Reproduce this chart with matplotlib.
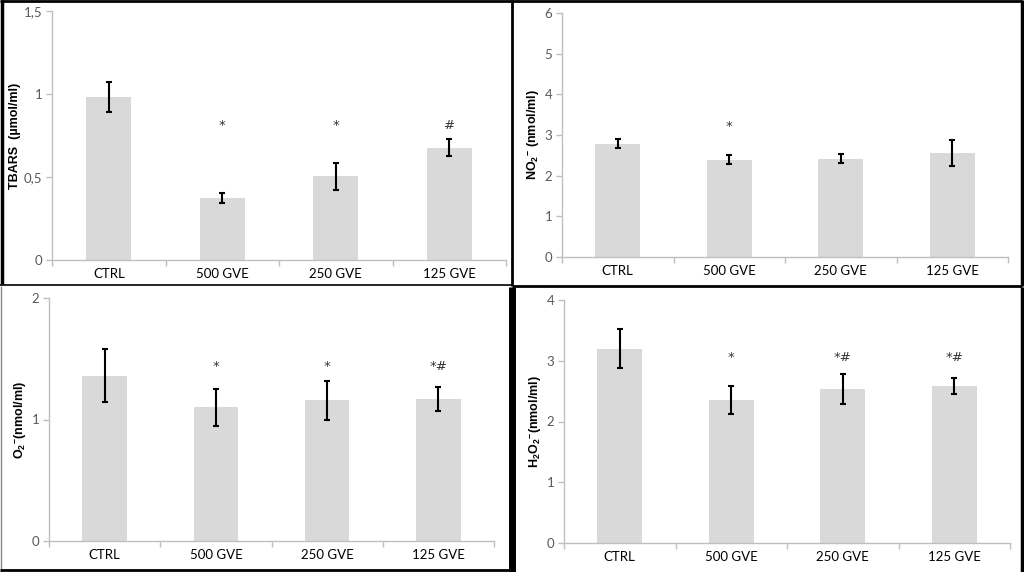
import matplotlib
matplotlib.use("Agg")
import matplotlib.pyplot as plt
from matplotlib.lines import Line2D

plt.rcParams['font.family'] = ['Lato', 'DejaVu Sans']
plt.rcParams['mathtext.fontset'] = 'custom'
plt.rcParams['mathtext.rm'] = 'Liberation Sans'
plt.rcParams['mathtext.bf'] = 'Liberation Sans:bold'

categories = ["CTRL", "500 GVE", "250 GVE", "125 GVE"]

tbars_vals = [0.98, 0.375, 0.505, 0.677]
tbars_err = [0.091, 0.030, 0.081, 0.051]
tbars_marks = ["", "*", "*", "#"]
tbars_mark_y = [0, 0.81, 0.81, 0.81]
tbars_ticks = [0, 0.5, 1, 1.5]
tbars_ticklabels = ["0", "0,5", "1", "1,5"]

no2_vals = [2.79, 2.39, 2.42, 2.56]
no2_err = [0.12, 0.115, 0.12, 0.32]
no2_marks = ["", "*", "", ""]
no2_mark_y = [0, 3.22, 0, 0]
no2_ticks = [0, 1, 2, 3, 4, 5, 6]
no2_ticklabels = ["0", "1", "2", "3", "4", "5", "6"]

o2_vals = [1.36, 1.10, 1.16, 1.17]
o2_err = [0.22, 0.15, 0.16, 0.10]
o2_marks = ["", "*", "*", "*#"]
o2_mark_y = [0, 1.44, 1.44, 1.44]
o2_ticks = [0, 1, 2]
o2_ticklabels = ["0", "1", "2"]

h2o2_vals = [3.20, 2.36, 2.54, 2.59]
h2o2_err = [0.32, 0.23, 0.25, 0.13]
h2o2_marks = ["", "*", "*#", "*#"]
h2o2_mark_y = [0, 3.05, 3.05, 3.05]
h2o2_ticks = [0, 1, 2, 3, 4]
h2o2_ticklabels = ["0", "1", "2", "3", "4"]

W, H = 1024, 572
fig = plt.figure(figsize=(W / 100, H / 100), dpi=100)
fig.patch.set_facecolor("white")

AX_GRAY = "#BFBFBF"
TXT_GRAY = "#595959"


def make_panel(xl, xr, ytop, ybot, vals, errs, marks, mark_y, ticks, ticklabels,
               ylabel, label_x):
    ax = fig.add_axes([xl / W, 1 - ybot / H, (xr - xl) / W, (ybot - ytop) / H])
    x = list(range(len(categories)))
    ax.bar(x, vals, width=0.4, color="#D9D9D9", zorder=2)
    ax.errorbar(x, vals, yerr=errs, fmt="none", ecolor="black", elinewidth=1.5,
                capsize=2.2, capthick=1.5, zorder=3)
    for xi, m, my in zip(x, marks, mark_y):
        if m:
            ax.text(xi, my, m, ha="center", va="center", fontsize=9.5,
                    color="#333333", family=["DejaVu Sans"])
    ax.set_xlim(-0.5, len(categories) - 0.5)
    ax.set_ylim(ticks[0], ticks[-1])
    ax.set_yticks(ticks)
    ax.set_yticklabels(ticklabels, color=TXT_GRAY, fontsize=9.5)
    ax.set_xticks([i - 0.5 for i in range(len(categories) + 1)])
    ax.set_xticklabels([])
    ax.set_xticks(x, minor=True)
    ax.set_xticklabels(categories, minor=True, fontsize=9.5, color="black")
    ax.tick_params(axis="x", which="major", direction="out", length=4,
                   color=AX_GRAY, width=1)
    ax.tick_params(axis="x", which="minor", length=0, pad=6)
    ax.tick_params(axis="y", direction="out", length=4, color=AX_GRAY, width=1,
                   pad=3)
    for s in ["top", "right"]:
        ax.spines[s].set_visible(False)
    for s in ["left", "bottom"]:
        ax.spines[s].set_color(AX_GRAY)
        ax.spines[s].set_linewidth(1)
    ax.patch.set_alpha(0)
    fig.text(label_x / W, 1 - ((ytop + ybot) / 2) / H, ylabel, rotation=90,
             ha="center", va="center", fontsize=9, fontweight="bold",
             family=["Liberation Sans", "DejaVu Sans"])
    return ax


make_panel(52, 506, 11, 260, tbars_vals, tbars_err, tbars_marks, tbars_mark_y,
           tbars_ticks, tbars_ticklabels, "TBARS  (µmol/ml)", 15)
make_panel(562, 1008, 13, 257, no2_vals, no2_err, no2_marks, no2_mark_y,
           no2_ticks, no2_ticklabels,
           r"NO$_\mathbf{2}$$^{\mathbf{-}}$ (nmol/ml)", 534)
make_panel(49, 494, 298, 541, o2_vals, o2_err, o2_marks, o2_mark_y,
           o2_ticks, o2_ticklabels,
           r"O$_\mathbf{2}$$^{\mathbf{-}}$(nmol/ml)", 21)
make_panel(564, 1010, 300, 543, h2o2_vals, h2o2_err, h2o2_marks, h2o2_mark_y,
           h2o2_ticks, h2o2_ticklabels,
           r"H$_\mathbf{2}$O$_\mathbf{2}$$^{\mathbf{-}}$(nmol/ml)", 536)


def fline(x0, y0, x1, y1, lw, color="black"):
    fig.add_artist(Line2D([x0 / W, x1 / W], [1 - y0 / H, 1 - y1 / H],
                          transform=fig.transFigure, color=color, linewidth=lw,
                          solid_capstyle="butt"))


# panel frames
fline(0, 1, 1022, 1, 2.0)          # top
fline(1.5, 0, 1.5, 284, 2.5)       # left of top-left panel
fline(1, 286, 1, 572, 1.0, "#888888")
fline(512, 0, 512, 286, 2.0)       # middle separator top
fline(512, 287, 512, 572, 5.0)     # middle separator bottom (thick)
fline(1022, 0, 1022, 286, 2.5)     # right of top-right panel
fline(1022, 287, 1022, 572, 2.5)   # right of bottom-right panel
fline(0, 285, 512, 285, 1.2)       # bottom of top-left
fline(512, 285.5, 1022, 285.5, 2.0)  # bottom of top-right / top of bottom-right
fline(0, 570, 512, 570, 2.0)       # bottom of bottom-left

fig.savefig("out.png", dpi=100, facecolor="white")
